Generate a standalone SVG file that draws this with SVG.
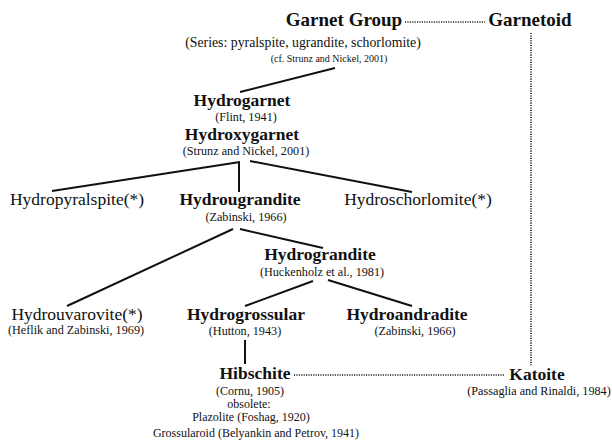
<svg xmlns="http://www.w3.org/2000/svg" width="612" height="443" viewBox="0 0 612 443">
<style>
text{font-family:"Liberation Serif","Times New Roman",serif;fill:#111;text-anchor:middle}
.t{font-size:19px;font-weight:bold}
.b{font-size:17.5px;font-weight:bold}
.r{font-size:17.5px}
.s{font-size:10px}
.m{font-size:12.2px}
.o{font-size:12px}
.ser{font-size:13.8px}
.ln{stroke:#111;stroke-width:2;fill:none}
.dt{stroke:#111;stroke-width:1.6;stroke-dasharray:1.1 1.3;fill:none}
</style>
<rect width="612" height="443" fill="#fff"/>
<g id="connectors">
<line class="dt" x1="405" y1="22" x2="485" y2="22"/>
<line class="dt" x1="531" y1="33" x2="531" y2="366"/>
<line class="dt" x1="294" y1="375" x2="505" y2="375"/>
<line class="ln" x1="335" y1="68" x2="240" y2="92"/>
<line class="ln" x1="240" y1="162" x2="52" y2="191"/>
<line class="ln" x1="239" y1="162" x2="239" y2="192"/>
<line class="ln" x1="250" y1="161" x2="412" y2="192"/>
<line class="ln" x1="233" y1="229" x2="67" y2="306"/>
<line class="ln" x1="240" y1="229" x2="323" y2="248"/>
<line class="ln" x1="313" y1="281" x2="245" y2="306"/>
<line class="ln" x1="328" y1="280" x2="412" y2="306"/>
<line class="ln" x1="245" y1="340" x2="245" y2="364"/>
</g>
<g id="garnet-group">
<text class="t" x="344" y="26">Garnet Group</text>
<text class="ser" x="303" y="47">(Series: pyralspite, ugrandite, schorlomite)</text>
<text class="s" x="329" y="62">(cf. Strunz and Nickel, 2001)</text>
</g>
<g id="garnetoid"><text class="t" x="530" y="26">Garnetoid</text></g>
<g id="hydrogarnet">
<text class="b" x="242" y="106">Hydrogarnet</text>
<text class="m" x="246" y="121">(Flint, 1941)</text>
<text class="b" x="242" y="140">Hydroxygarnet</text>
<text class="m" x="246" y="155">(Strunz and Nickel, 2001)</text>
</g>
<g id="hydropyralspite"><text class="r" x="77" y="205">Hydropyralspite(*)</text></g>
<g id="hydrougrandite">
<text class="b" x="240" y="205">Hydrougrandite</text>
<text class="m" x="246" y="221">(Zabinski, 1966)</text>
</g>
<g id="hydroschorlomite"><text class="r" x="418" y="205">Hydroschorlomite(*)</text></g>
<g id="hydrograndite">
<text class="b" x="320" y="260">Hydrograndite</text>
<text class="m" x="322" y="276">(Huckenholz et al., 1981)</text>
</g>
<g id="hydrouvarovite">
<text class="r" x="77" y="320">Hydrouvarovite(*)</text>
<text class="m" x="76" y="334">(Heflik and Zabinski, 1969)</text>
</g>
<g id="hydrogrossular">
<text class="b" x="246" y="320">Hydrogrossular</text>
<text class="m" x="245" y="335">(Hutton, 1943)</text>
</g>
<g id="hydroandradite">
<text class="b" x="407" y="320">Hydroandradite</text>
<text class="m" x="415" y="335">(Zabinski, 1966)</text>
</g>
<g id="hibschite">
<text class="b" x="255" y="379">Hibschite</text>
<text class="o" x="250" y="395">(Cornu, 1905)</text>
<text class="o" x="249" y="408">obsolete:</text>
<text class="o" x="251" y="421">Plazolite (Foshag, 1920)</text>
<text class="o" x="256" y="437">Grossularoid (Belyankin and Petrov, 1941)</text>
</g>
<g id="katoite">
<text class="b" x="537" y="380">Katoite</text>
<text class="m" x="539" y="395">(Passaglia and Rinaldi, 1984)</text>
</g>
</svg>
